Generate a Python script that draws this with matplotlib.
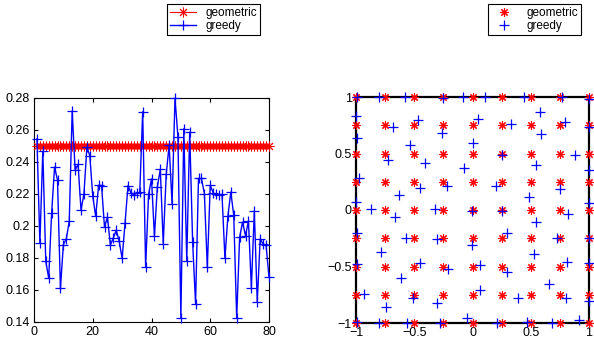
import numpy as np
import matplotlib
matplotlib.use('Agg')
import matplotlib.pyplot as plt

plt.rcParams['font.family'] = ['Liberation Sans', 'DejaVu Sans']

# left panel: value per iteration
iters = np.arange(1, 81)
greedy_vals = [
    0.2545, 0.1895, 0.2468, 0.178, 0.1675, 0.208, 0.2368, 0.2287, 0.161, 0.1884,
    0.192, 0.203, 0.2719, 0.235, 0.2385, 0.21, 0.22, 0.2493, 0.244, 0.2187,
    0.206, 0.2255, 0.2253, 0.1993, 0.2057, 0.188, 0.1926, 0.1974, 0.1905, 0.1797,
    0.202, 0.2253, 0.2208, 0.2195, 0.2205, 0.221, 0.2714, 0.1742, 0.2197, 0.2295,
    0.1936, 0.2245, 0.2354, 0.189, 0.2322, 0.2504, 0.214, 0.28, 0.2556, 0.1425,
    0.2608, 0.178, 0.2587, 0.19, 0.1515, 0.2297, 0.2297, 0.2203, 0.1742, 0.2255,
    0.2207, 0.2197, 0.2193, 0.2197, 0.1797, 0.206, 0.2212, 0.2066, 0.1425, 0.193,
    0.2024, 0.194, 0.203, 0.1613, 0.2095, 0.1523, 0.192, 0.1888, 0.188, 0.168,
]
geometric_vals = [0.25] * 80

# right panel: point positions
grid_ticks = np.arange(-1, 1.01, 0.25)
gx, gy = np.meshgrid(grid_ticks, grid_ticks)
greedy_x = [
    -0.99, -0.80, -0.583, -0.25, -0.084, 0.107, 0.44, 0.77, 1.0,
    -0.99, -0.80, -0.558, -0.28, -0.044, 0.207, 0.464, 0.683, 0.914,
    -1.0, -0.99, -0.97, -1.0, -0.99, -0.99, -0.93,
    1.0, 1.0, 1.0, 1.0, 1.0, 1.0,
    0.578, 0.797, 0.33, 0.586, -0.683, -0.464, -0.264, 0.05, 0.001, -0.535,
    -0.726, -0.407, -0.07, 0.252, 0.543, 0.88, -0.449, -0.221, 0.201, 0.749,
    -0.629, 0.486, -0.869, -0.321, -0.004, 0.25, 0.82, -0.663, 0.549, -0.569,
    -0.307, 0.292, 0.729, -0.007, -0.783, 0.526, -0.449, -0.207, 0.064, 0.298,
    0.812, -0.612, 0.658, 0.064, 0.392, 0.806, -0.512, -0.74, -0.307,
]
greedy_y = [
    1.0, 1.0, 1.0, 0.995, 1.0, 1.0, 1.0, 1.0, 0.98,
    -0.99, -1.0, -1.0, -1.0, -0.96, -1.0, -0.99, -1.0, -0.97,
    0.832, 0.64, 0.28, 0.07, -0.2, -0.475, -0.74,
    0.735, 0.35, 0.065, -0.245, -0.466, -0.805,
    0.87, 0.779, 0.758, 0.676, 0.737, 0.796, 0.684, 0.802, 0.59, 0.572,
    0.44, 0.419, 0.375, 0.484, 0.395, 0.484, 0.198, 0.212, 0.212, 0.189,
    0.13, 0.118, 0.012, 0.012, -0.006, -0.006, -0.033, -0.062, -0.103, -0.245,
    -0.26, -0.206, -0.245, -0.31, -0.375, -0.39, -0.47, -0.52, -0.487, -0.549,
    -0.459, -0.605, -0.652, -0.711, -0.776, -0.782, -0.782, -0.855, -0.82,
]

star = (8, 2, 0)

fig = plt.figure(figsize=(5.94, 3.39), dpi=100)
ax1 = fig.add_axes([34 / 594, 17 / 339, 235 / 594, 224 / 339])
ax2 = fig.add_axes([356 / 594, 16 / 339, 233 / 594, 226 / 339])

ax1.plot(iters, geometric_vals, color='red', marker=star, markersize=7,
         markeredgewidth=0.7, linewidth=0.8, label='geometric', clip_on=False)
ax1.plot(iters, greedy_vals, color='blue', marker='+', markersize=7,
         markeredgewidth=0.9, linewidth=1.0, label='greedy', clip_on=False)
ax1.set_xlim(0, 80)
ax1.set_ylim(0.14, 0.28)
ax1.set_xticks([0, 20, 40, 60, 80])
yt = np.round(np.arange(0.14, 0.2801, 0.02), 2)
ax1.set_yticks(yt)
ax1.set_yticklabels(['%g' % v for v in yt])

ax2.plot(gx.ravel(), gy.ravel(), linestyle='none', color='red', marker=star,
         markersize=6, markeredgewidth=0.8, label='geometric', clip_on=False)
ax2.plot(greedy_x, greedy_y, linestyle='none', color='blue', marker='+',
         markersize=7, markeredgewidth=0.9, label='greedy', clip_on=False)
ax2.set_xlim(-1, 1)
ax2.set_ylim(-1, 1)
ax2.set_xticks([-1, -0.5, 0, 0.5, 1])
ax2.set_yticks([-1, -0.5, 0, 0.5, 1])
ax2.set_xticklabels(['−1', '−0.5', '0', '0.5', '1'])
ax2.set_yticklabels(['−1', '−0.5', '0', '0.5', '1'])

for ax, lw in ((ax1, 0.8), (ax2, 1.6)):
    ax.tick_params(direction='in', top=True, right=True, length=3,
                   labelsize=9, pad=3)
    for s in ax.spines.values():
        s.set_linewidth(lw)
        s.set_zorder(1)

leg_kw = dict(loc='upper left', bbox_transform=fig.transFigure, fontsize=8.5,
              fancybox=False, edgecolor='black', framealpha=1,
              borderpad=0.25, labelspacing=0.1, handlelength=2.2,
              handletextpad=0.8, borderaxespad=0)
l1 = ax1.legend(bbox_to_anchor=(167 / 594, 1 - 4 / 339), **leg_kw)
l2 = ax2.legend(bbox_to_anchor=(488 / 594, 1 - 4 / 339), **leg_kw)
for leg in (l1, l2):
    leg.get_frame().set_linewidth(0.8)

fig.savefig('out.png', dpi=100)
